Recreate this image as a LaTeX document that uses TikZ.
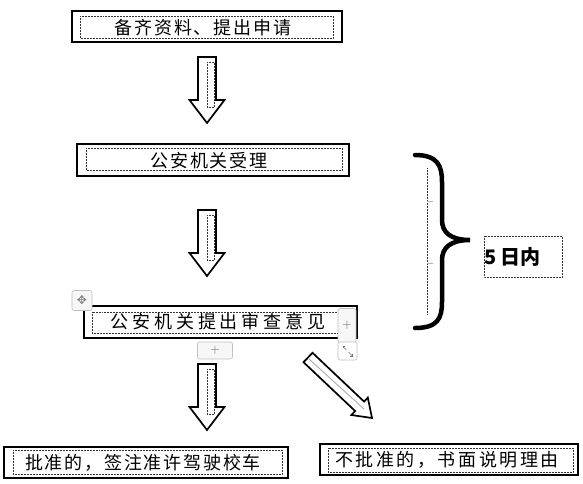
\documentclass[tikz,border=0pt]{standalone}
\usepackage{fontspec}
\newfontfamily\cjk{Noto Sans CJK SC}
\newfontfamily\symf{DejaVu Sans}
\usetikzlibrary{calc,arrows.meta}
\tikzset{
  box/.style={draw=black, line width=1.3pt, inner sep=0pt, fill=white},
  frame/.style={draw=black!80, densely dotted, line width=0.5pt},
  gframe/.style={draw=black!30, dashed, line width=0.8pt},
  label/.style={inner sep=0pt, font=\cjk\fontsize{18}{20}\selectfont},
  blockarrow/.style={draw=black, line width=1.7pt, fill=white, line join=miter},
  uibtn/.style={draw=black!25, rounded corners=2pt, line width=0.6pt, fill=black!3, inner sep=0pt},
  bracestyle/.style={draw=black, line width=4.5pt, line cap=round},
}
\begin{document}
\begin{tikzpicture}[x=1pt, y=-1pt]
\useasboundingbox (0,0) rectangle (583,483);

% ---- boxes ----
\node[box, minimum width=270pt, minimum height=31pt] (b1) at (207,26.5) {};
\draw[frame] (80,16) rectangle (333,38);
\node[label] (t1) at (203,27.5) {\addfontfeature{LetterSpace=10}备齐资料、提出申请};

\node[box, minimum width=272pt, minimum height=32pt] (b2) at (213,160) {};
\draw[frame] (86,148) rectangle (342,170);
\node[label] (t2) at (209,161) {\addfontfeature{LetterSpace=10}公安机关受理};

\node[box, minimum width=273pt, minimum height=32pt] (b3) at (220.5,322) {};
\draw[frame] (92,312) rectangle (338,333);
\node[label] (t3) at (218,322) {\addfontfeature{LetterSpace=22}公安机关提出审查意见};

\node[box, minimum width=284pt, minimum height=31pt] (b4) at (146,462.5) {};
\draw[frame] (13,450) rectangle (282,474);
\node[label] (t4) at (143,463) {\addfontfeature{LetterSpace=10}批准的，签注准许驾驶校车};

\node[box, minimum width=258pt, minimum height=31pt] (b5) at (449,459.5) {};
\draw[frame] (328,448) rectangle (573,472);
\node[label] (t5) at (447,460) {\addfontfeature{LetterSpace=14}不批准的，书面说明理由};

% ---- block arrows ----
\foreach \t/\n in {57/a1, 210/a2, 364/a3}{
  \draw[blockarrow] (198,\t) -- (198,\t+43) -- (189.5,\t+43) -- (207,\t+66)
     -- (224.5,\t+43) -- (216,\t+43) -- (216,\t) -- cycle;
  \draw[frame] (207,\t+5) rectangle (214,\t+50);
}
\draw[blockarrow] (312.5,352.8) -- (364.1,401.6) -- (367.8,397.6) -- (372,418)
   -- (351.4,415.0) -- (355.1,411.0) -- (303.5,362.2) -- cycle;
\draw[draw=black!30, line width=1pt] (309,359) -- (364,409);

% ---- brace ----
\draw[frame] (427,168) -- (427,315);
\draw[draw=black!30, line width=0.8pt] (427,201) -- (433,201) (427,263) -- (433,263);
\draw[bracestyle] (415,155) .. controls (438,155) and (442,166) .. (442,182)
  -- (442,220) .. controls (442,232) and (450,240) .. (470,240)
  .. controls (450,240) and (442,248) .. (442,260)
  -- (442,302) .. controls (442,318) and (438,328) .. (415,328);

\draw[frame] (484,236) rectangle (562,277);
\node[inner sep=0pt, anchor=west, font=\cjk\bfseries\fontsize{20}{22}\selectfont] (t6) at (484,256.5) {5 日内};

% ---- editor handles ----
\node[uibtn, minimum width=20pt, minimum height=20pt, font=\symf\fontsize{12}{12}\selectfont, text=black!50] (mv) at (82,300.5) {✥};
\node[uibtn, minimum width=35pt, minimum height=17pt, font=\fontsize{13}{13}\selectfont, text=black!60] (p1) at (215,350.5) {+};
\node[uibtn, minimum width=18pt, minimum height=34pt, font=\fontsize{13}{13}\selectfont, text=black!60] (p2) at (347,325.5) {+};
\node[uibtn, fill=white, minimum width=19pt, minimum height=18pt] (rs) at (347.5,351) {};
\draw[black!55, line width=0.5pt, -{Straight Barb[length=1.5pt]}] ($(rs.center)+(-1,-1)$) -- ($(rs.center)+(-5,-5)$);
\draw[black!55, line width=0.5pt, -{Straight Barb[length=1.5pt]}] ($(rs.center)+(1,1)$) -- ($(rs.center)+(5,5)$);
\end{tikzpicture}
\end{document}
